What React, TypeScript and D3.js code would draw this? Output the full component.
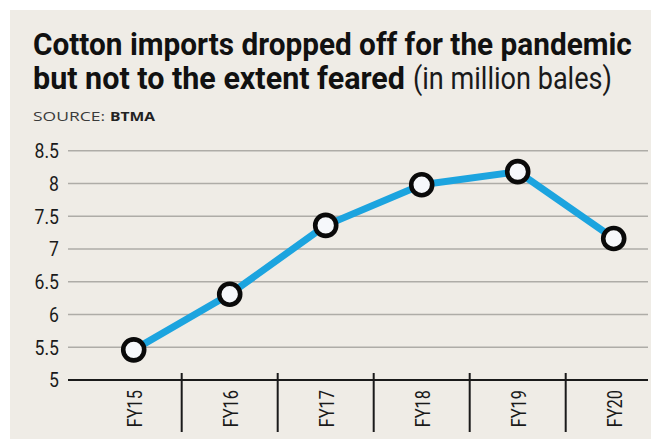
import React, { useLayoutEffect, useRef, useState } from "react";
import * as d3 from "d3";

const categories = ["FY15", "FY16", "FY17", "FY18", "FY19", "FY20"];
const imports = [5.46, 6.31, 7.36, 7.98, 8.18, 7.16];
const yTicks = [5, 5.5, 6, 6.5, 7, 7.5, 8, 8.5];
const titleLine1 = "Cotton imports dropped off for the pandemic";
const titleLine2Bold = "but not to the extent feared";
const titleLine2Regular = "(in million bales)";
const sourceLabel = "SOURCE:";
const sourceName = "BTMA";

const W = 651;
const H = 439;

type FitProps = {
  x: number;
  y: number;
  width: number;
  text: string;
  fontFamily: string;
  fontSize: number;
  fontWeight?: number;
  fill: string;
};

function FitText({ x, y, width, text, fontFamily, fontSize, fontWeight = 400, fill }: FitProps) {
  const ref = useRef<SVGTextElement>(null);
  const [s, setS] = useState(0.8);
  useLayoutEffect(() => {
    if (ref.current) {
      const len = ref.current.getComputedTextLength();
      if (len > 0) setS(width / len);
    }
  }, [text, width, fontFamily, fontSize, fontWeight]);
  return (
    <text
      ref={ref}
      transform={`translate(${x},${y}) scale(${s},1)`}
      fontFamily={fontFamily}
      fontSize={fontSize}
      fontWeight={fontWeight}
      fill={fill}
    >
      {text}
    </text>
  );
}

export default function App() {
  const x = d3.scaleBand<string>().domain(categories).range([85.7, 661.7]).padding(0);
  const y = d3.scaleLinear().domain([5, 8.5]).range([380, 150.7]);
  const cx = (c: string) => (x(c) ?? 0) + x.bandwidth() / 2;
  const line = d3
    .line<number>()
    .x((_, i) => cx(categories[i]))
    .y((d) => y(d));
  const condensed = "Roboto, 'Liberation Sans', sans-serif";
  const plain = "'Open Sans', sans-serif";

  return (
    <svg
      width={W}
      height={H}
      style={{ position: "absolute", left: 0, top: 0, display: "block" }}
    >
      <rect x={0} y={0} width={W} height={H} fill="#ffffff" />
      <rect x={10} y={10} width={W - 10} height={H - 10} fill="#efece6" />

      <FitText x={33} y={55} width={599} text={titleLine1} fontFamily={condensed} fontSize={31} fontWeight={700} fill="#111" />
      <FitText x={33} y={89} width={372} text={titleLine2Bold} fontFamily={condensed} fontSize={31} fontWeight={700} fill="#111" />
      <FitText x={413} y={89} width={199} text={titleLine2Regular} fontFamily={condensed} fontSize={31} fontWeight={400} fill="#1a1a1a" />
      <FitText x={33} y={121} width={72} text={sourceLabel} fontFamily={plain} fontSize={12.5} fill="#3a3a3a" />
      <FitText x={110} y={121} width={45} text={sourceName} fontFamily={plain} fontSize={12.5} fontWeight={700} fill="#222" />

      {yTicks.filter((t) => t > 5).map((t) => (
        <line key={"g" + t} x1={68} x2={648} y1={y(t)} y2={y(t)} stroke="#aeaca7" strokeWidth={1.6} />
      ))}
      {yTicks.map((t) => (
        <text key={"yl" + t} transform={`translate(59,${y(t)}) scale(0.86,1)`} textAnchor="end" dy="0.36em"
          fontFamily={condensed} fontSize={20.5} fill="#1a1a1a">
          {String(t)}
        </text>
      ))}

      <line x1={68} x2={648} y1={y(5)} y2={y(5)} stroke="#1a1a1a" strokeWidth={2} />
      {categories.slice(1).map((c) => (
        <line key={"s" + c} x1={x(c)} x2={x(c)} y1={373} y2={432} stroke="#1a1a1a" strokeWidth={2} />
      ))}
      {categories.map((c) => (
        <text key={"xl" + c} transform={`translate(${cx(c) + 1},390) rotate(-90) scale(0.78,1)`}
          textAnchor="end" dy="0.36em" fontFamily={condensed} fontSize={21} fill="#1a1a1a">
          {c}
        </text>
      ))}

      <path d={line(imports) ?? ""} fill="none" stroke="#1ca4df" strokeWidth={7} strokeLinejoin="round" />
      {imports.map((v, i) => (
        <circle key={"p" + i} cx={cx(categories[i])} cy={y(v)} r={10.5} fill="#f6f8fb" stroke="#0a0a0a" strokeWidth={4.6} />
      ))}
    </svg>
  );
}
